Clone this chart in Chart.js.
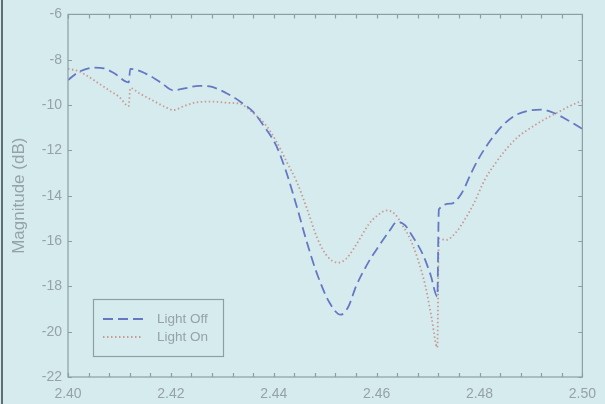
<!DOCTYPE html>
<html>
<head>
<meta charset="utf-8">
<script src="https://cdn.jsdelivr.net/npm/chart.js@4/dist/chart.umd.min.js"></script>
<style>
html,body{margin:0;padding:0;background:#d6ebee;}
#wrap{position:relative;width:605px;height:404px;}
</style>
</head>
<body>
<div id="wrap"><canvas id="c" width="605" height="404"></canvas></div>
<script>
const seriesNames = ["Light Off", "Light On"];
const offFreq = [2.400,2.402,2.405,2.407,2.409,2.4118,2.4121,2.415,2.418,2.4205,2.423,2.4255,2.428,2.431,2.4335,2.436,2.438,2.4405,2.4425,2.4445,2.4465,2.4485,2.4508,2.453,2.4545,2.456,2.4585,2.4605,2.4625,2.464,2.4655,2.467,2.469,2.4705,2.4718,2.4721,2.4745,2.4765,2.4785,2.480,2.482,2.4845,2.487,2.4895,2.492,2.4945,2.497,2.500];
const offMag = [-8.90,-8.55,-8.35,-8.38,-8.6,-9.0,-8.4,-8.6,-9.0,-9.35,-9.25,-9.15,-9.2,-9.5,-9.85,-10.3,-10.9,-11.8,-13.0,-14.5,-16.1,-17.5,-18.7,-19.25,-18.9,-18.0,-16.9,-16.2,-15.55,-15.15,-15.3,-15.8,-16.6,-17.5,-18.45,-14.6,-14.35,-13.9,-12.95,-12.3,-11.6,-10.9,-10.45,-10.25,-10.2,-10.35,-10.65,-11.05];
const onFreq = [2.400,2.402,2.404,2.406,2.408,2.410,2.4118,2.4121,2.414,2.4165,2.419,2.4205,2.4225,2.425,2.428,2.431,2.4335,2.436,2.4385,2.4405,2.4425,2.4445,2.4465,2.4485,2.4505,2.4525,2.454,2.4555,2.457,2.4585,2.460,2.462,2.4635,2.465,2.4665,2.468,2.4695,2.4707,2.4718,2.4721,2.4735,2.4755,2.477,2.479,2.481,2.483,2.485,2.4875,2.490,2.4925,2.495,2.4975,2.500];
const onMag = [-8.4,-8.5,-8.75,-9.05,-9.35,-9.65,-10.05,-9.25,-9.5,-9.8,-10.1,-10.22,-10.05,-9.88,-9.85,-9.9,-9.95,-10.35,-10.9,-11.6,-12.5,-13.4,-14.6,-15.9,-16.7,-16.95,-16.8,-16.35,-15.8,-15.25,-14.9,-14.65,-14.8,-15.3,-15.9,-16.8,-18.0,-19.4,-20.7,-15.9,-15.95,-15.6,-15.1,-14.3,-13.3,-12.6,-12.0,-11.4,-11.0,-10.65,-10.35,-10.05,-9.8];
const xTicks = [2.40,2.42,2.44,2.46,2.48,2.50];
const yTicks = [-6,-8,-10,-12,-14,-16,-18,-20,-22];
const yTitle = "Magnitude (dB)";

const AXIS = '#8c9fa3';
const TXT = '#96a3a6';
const BLUE = '#6678c4';
const PINK = '#c79a94';
const FONT = '"Liberation Sans", Arial, sans-serif';

const toPts = (xs, ys) => xs.map((x, i) => ({x: x, y: ys[i]}));

const framePlugin = {
  id: 'frame',
  beforeDraw(chart) {
    const ctx = chart.ctx;
    ctx.save();
    ctx.fillStyle = '#d6ebee';
    ctx.fillRect(0, 0, chart.width, chart.height);
    ctx.fillStyle = '#5f6f75';
    ctx.fillRect(1, 0, 2, chart.height);
    ctx.restore();
  },
  afterDatasetsDraw(chart) {
    const {ctx, chartArea: a, scales} = chart;
    const xs = scales.x, ys = scales.y;
    ctx.save();
    ctx.strokeStyle = AXIS;
    ctx.lineWidth = 1.2;
    ctx.strokeRect(a.left, a.top, a.right - a.left, a.bottom - a.top);
    ctx.beginPath();
    for (let i = 0; i <= 25; i++) {
      const v = 2.40 + i * 0.004;
      const px = Math.round(xs.getPixelForValue(v)) + 0.5;
      const len = 4;
      ctx.moveTo(px, a.bottom); ctx.lineTo(px, a.bottom - len);
      ctx.moveTo(px, a.top); ctx.lineTo(px, a.top + len);
    }
    yTicks.forEach(v => {
      const py = Math.round(ys.getPixelForValue(v)) + 0.5;
      ctx.moveTo(a.left, py); ctx.lineTo(a.left + 4, py);
      ctx.moveTo(a.right, py); ctx.lineTo(a.right - 4, py);
    });
    ctx.stroke();

    // legend
    const lx = 93, ly = 299, lw = 130, lh = 57;
    ctx.lineWidth = 1.2;
    ctx.strokeStyle = AXIS;
    ctx.strokeRect(lx + 0.5, ly + 0.5, lw, lh);
    const ds = chart.data.datasets;
    const rows = [319, 337];
    ds.forEach((d, i) => {
      ctx.beginPath();
      ctx.strokeStyle = d.borderColor;
      ctx.lineWidth = d.borderWidth;
      ctx.setLineDash(d.borderDash);
      ctx.moveTo(103, rows[i]); ctx.lineTo(143, rows[i]);
      ctx.stroke();
      ctx.setLineDash([]);
      ctx.fillStyle = TXT;
      ctx.font = '13.5px ' + FONT;
      ctx.textBaseline = 'middle';
      ctx.textAlign = 'left';
      ctx.fillText(d.label, 157, rows[i]);
    });
    ctx.restore();
  }
};

new Chart(document.getElementById('c'), {
  type: 'line',
  data: {
    datasets: [
      {label: seriesNames[0], data: toPts(offFreq, offMag), borderColor: BLUE, borderWidth: 1.8, borderDash: [10, 5], pointRadius: 0, cubicInterpolationMode: 'monotone', fill: false},
      {label: seriesNames[1], data: toPts(onFreq, onMag), borderColor: PINK, borderWidth: 1.8, borderDash: [1.5, 2.5], pointRadius: 0, cubicInterpolationMode: 'monotone', fill: false}
    ]
  },
  options: {
    responsive: false,
    animation: false,
    devicePixelRatio: 1,
    layout: {padding: {left: 0, right: 15, top: 14, bottom: 0}},
    plugins: {legend: {display: false}, tooltip: {enabled: false}},
    scales: {
      x: {
        type: 'linear', min: 2.40, max: 2.50,
        afterBuildTicks: s => { s.ticks = xTicks.map(v => ({value: v})); },
        afterFit: s => { s.height = 27; },
        grid: {display: false, drawTicks: false},
        border: {display: false},
        ticks: {color: TXT, font: {family: FONT, size: 14}, padding: 9, maxRotation: 0, callback: v => Number(v).toFixed(2)}
      },
      y: {
        min: -22, max: -6,
        afterBuildTicks: s => { s.ticks = yTicks.map(v => ({value: v})); },
        afterFit: s => { s.width = 68; },
        grid: {display: false, drawTicks: false},
        border: {display: false},
        ticks: {color: TXT, font: {family: FONT, size: 14}, padding: 6, callback: v => String(v)},
        title: {display: true, text: yTitle, color: TXT, font: {family: FONT, size: 17}, padding: {top: 9, bottom: 0}}
      }
    }
  },
  plugins: [framePlugin]
});
</script>
</body>
</html>
